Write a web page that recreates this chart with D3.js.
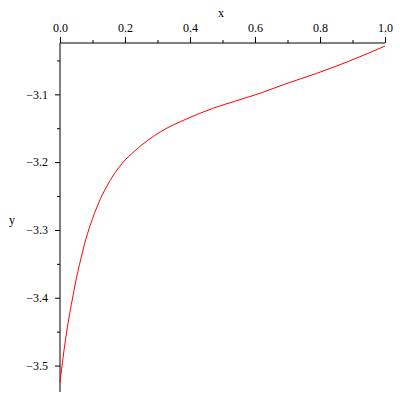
<!DOCTYPE html>
<html>
<head>
<meta charset="utf-8">
<script src="https://cdn.jsdelivr.net/npm/d3@7"></script>
<style>
  body { margin: 0; background: #fff; }
  text { font-family: "Liberation Serif", "Times New Roman", serif; }
</style>
</head>
<body>
<script>
// curve samples
const xs = [0, 0.01, 0.02, 0.03, 0.04, 0.05, 0.06, 0.08, 0.1, 0.125, 0.15, 0.19, 0.23, 0.31, 0.39, 0.47, 0.54, 0.615, 0.69, 0.79, 0.89, 1.0];
const ys = [-3.525, -3.486, -3.452, -3.423, -3.397, -3.372, -3.351, -3.313, -3.2835, -3.2535, -3.2305, -3.2025, -3.1835, -3.155, -3.1362, -3.1207, -3.1099, -3.0985, -3.0853, -3.069, -3.051, -3.0288];
const xMajor = [0, 0.2, 0.4, 0.6, 0.8, 1.0];
const xMinor = [0.1, 0.3, 0.5, 0.7, 0.9];
const yMajor = [-3.1, -3.2, -3.3, -3.4, -3.5];
const yMinor = [-3.05, -3.15, -3.25, -3.35, -3.45];

const width = 400, height = 400;
const svg = d3.select("body").append("svg")
  .attr("width", width)
  .attr("height", height);

let x = d3.scaleLinear().domain([0, 1]).range([60, 385]);
let y = d3.scaleLinear().domain([-3.0243, -3.539]).range([43, 392]);

// x axis on top
svg.append("g")
  .attr("transform", "translate(0,43)")
  .call(d3.axisTop(x).tickValues(xMajor).tickSize(6).tickPadding(5).tickFormat(d3.format(".1f")))
  .call(g => g.select(".domain").attr("d", "M" + x(0) + ",0H" + x(1)));
svg.append("g")
  .attr("transform", "translate(0,43)")
  .call(d3.axisTop(x).tickValues(xMinor).tickSize(3).tickFormat(""))
  .call(g => g.select(".domain").remove());

// y axis on the left
svg.append("g")
  .attr("transform", "translate(60,0)")
  .call(d3.axisLeft(y).tickValues(yMajor).tickSize(5).tickPadding(7).tickFormat(d3.format(".1f")))
  .call(g => g.select(".domain").attr("d", "M0," + y.range()[0] + "V" + y.range()[1]));
svg.append("g")
  .attr("transform", "translate(60,0)")
  .call(d3.axisLeft(y).tickValues(yMinor).tickSize(3).tickFormat(""))
  .call(g => g.select(".domain").remove());

svg.selectAll(".tick text")
  .attr("font-size", 12)
  .attr("font-family", "Liberation Serif, Times New Roman, serif");

// axis labels
svg.append("text")
  .attr("x", 221).attr("y", 17)
  .attr("text-anchor", "middle")
  .attr("font-size", 12)
  .text("x");
svg.append("text")
  .attr("x", 12).attr("y", 224)
  .attr("text-anchor", "middle")
  .attr("font-size", 12)
  .text("y");

// the curve
let line = d3.line()
  .x(function(d, i) { return x(xs[i]); })
  .y(function(d) { return y(d); })
  .curve(d3.curveMonotoneX);

svg.append("path")
  .datum(ys)
  .attr("fill", "none")
  .attr("stroke", "#ff0000")
  .attr("stroke-width", 1)
  .attr("d", line);
</script>
</body>
</html>
